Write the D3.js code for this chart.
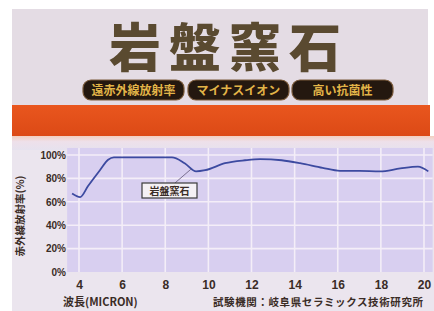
<!DOCTYPE html>
<html><head><meta charset="utf-8">
<script src="https://cdn.jsdelivr.net/npm/d3@7"></script>
<style>body{margin:0;background:#fff}svg{display:block}</style>
</head><body>
<script>
const title = "岩盤窯石";
const badges = ["遠赤外線放射率", "マイナスイオン", "高い抗菌性"];
const wavelength = [3.68, 4.05, 4.42, 4.97, 5.35, 5.62, 6.4, 7.5, 8.31, 8.9, 9.43, 9.85, 10.77, 11.7, 12.4, 13.4, 14.25, 15.3, 16.1, 17.0, 17.96, 18.9, 19.72, 20.2];
const emissivity = [67, 64, 73.5, 87, 96, 98, 98, 98, 98, 93, 86, 87, 93, 95.5, 96.5, 95.5, 93, 89, 86.5, 86.5, 86, 88.5, 90, 86];
const xTicks = [4, 6, 8, 10, 12, 14, 16, 18, 20];
const yTicks = [0, 20, 40, 60, 80, 100];
const yTitle = "赤外線放射率(%)";
const xTitle = "波長(MICRON)";
const source = "試験機関：岐阜県セラミックス技術研究所";
const seriesLabel = "岩盤窯石";

const W = 434, H = 311;
const svg = d3.select("body").append("svg").attr("width", W).attr("height", H);
const defs = svg.append("defs");
const g1 = defs.append("linearGradient").attr("id","pastel").attr("x1",0).attr("x2",0).attr("y1",0).attr("y2",1);
g1.append("stop").attr("offset","0%").attr("stop-color","#f2cfc0");
g1.append("stop").attr("offset","40%").attr("stop-color","#eee0ea");
g1.append("stop").attr("offset","100%").attr("stop-color","#e6e2ee");
const g2 = defs.append("linearGradient").attr("id","band").attr("x1",0).attr("x2",0).attr("y1",0).attr("y2",1);
g2.append("stop").attr("offset","0%").attr("stop-color","#e9561e");
g2.append("stop").attr("offset","100%").attr("stop-color","#dc4a16");

// panel
svg.append("rect").attr("x",12).attr("y",9).attr("width",416).attr("height",H-9).attr("fill","#e4dce4");
svg.append("rect").attr("x",12).attr("y",136).attr("width",422).attr("height",H-136).attr("fill","#ebe5ee");
svg.append("rect").attr("x",12).attr("y",136).attr("width",422).attr("height",14).attr("fill","url(#pastel)");

// title
svg.append("text").attr("x",229).attr("y",67).attr("text-anchor","middle")
  .attr("font-family","Noto Sans CJK JP").attr("font-weight",900).attr("font-size",52)
  .attr("letter-spacing",8).attr("fill","#5a4a30").text(title);

// badges
const bx = [83, 188, 292], bw = 101;
badges.forEach((b,i)=>{
  svg.append("rect").attr("x",bx[i]).attr("y",80).attr("width",bw).attr("height",20).attr("rx",8)
    .attr("fill","#24180f").attr("stroke","#7a5a3a").attr("stroke-width",1.2);
  svg.append("text").attr("x",bx[i]+bw/2).attr("y",94.5).attr("text-anchor","middle")
    .attr("font-family","Noto Sans CJK JP").attr("font-weight",700).attr("font-size",12)
    .attr("fill","#e2b448").text(b);
});

// orange band
svg.append("rect").attr("x",12).attr("y",105).attr("width",418).attr("height",31).attr("fill","url(#band)");

// scales
const x = d3.scaleLinear().domain([4,20]).range([79,424]);
const y = d3.scaleLinear().domain([0,100]).range([272,155]);

// plot area
svg.append("rect").attr("x",x(3.45)).attr("y",y(106)).attr("width",x(20.4)-x(3.45)).attr("height",y(0)-y(106))
  .attr("fill","#d8cff0");
svg.append("g").selectAll("line").data(xTicks).join("line")
  .attr("x1",d=>x(d)).attr("x2",d=>x(d)).attr("y1",y(106)).attr("y2",y(0))
  .attr("stroke","#f4eef8").attr("stroke-width",1.6);
svg.append("g").selectAll("line").data(yTicks.filter(d=>d>0)).join("line")
  .attr("x1",x(3.45)).attr("x2",x(20.4)).attr("y1",d=>y(d)).attr("y2",d=>y(d))
  .attr("stroke","#f4eef8").attr("stroke-width",1.6);

// axes labels
const yAxis = d3.axisLeft(y).tickValues(yTicks).tickFormat(d=>d+"%").tickSize(0).tickPadding(0);
const ya = svg.append("g").attr("transform",`translate(66,0)`).call(yAxis);
ya.select(".domain").remove();
ya.selectAll("text").attr("font-family","Liberation Sans").attr("font-weight",700).attr("font-size",10).attr("fill","#3a2c26");

const xAxis = d3.axisBottom(x).tickValues(xTicks).tickSize(0).tickPadding(0);
const xa = svg.append("g").attr("transform",`translate(0,280)`).call(xAxis);
xa.select(".domain").remove();
xa.selectAll("text").attr("font-family","Liberation Sans").attr("font-weight",700).attr("font-size",12).attr("fill","#3a2c26");

// line
const line = d3.line().x((d,i)=>x(wavelength[i])).y(d=>y(d)).curve(d3.curveMonotoneX);
svg.append("path").attr("d",line(emissivity)).attr("fill","none").attr("stroke","#3c4aa0").attr("stroke-width",1.8);

// annotation
svg.append("line").attr("x1",x(8.45)).attr("y1",183).attr("x2",x(9.2)).attr("y2",y(88)).attr("stroke","#7a7090").attr("stroke-width",1);
svg.append("rect").attr("x",142).attr("y",183).attr("width",55).attr("height",15).attr("fill","#f4f0f4").attr("stroke","#3a3a3a").attr("stroke-width",1.2);
svg.append("text").attr("x",169.5).attr("y",194.5).attr("text-anchor","middle")
  .attr("font-family","Noto Sans CJK JP").attr("font-weight",700).attr("font-size",10).attr("fill","#3a2c26").text(seriesLabel);

// titles
svg.append("text").attr("transform","translate(24,216) rotate(-90)").attr("text-anchor","middle")
  .attr("font-family","Noto Sans CJK JP").attr("font-weight",700).attr("font-size",10.5).attr("fill","#3a2c26").text(yTitle);
svg.append("text").attr("x",63).attr("y",306)
  .attr("font-family","Noto Sans CJK JP").attr("font-weight",700).attr("font-size",11).attr("fill","#3a2c26").text(xTitle);
svg.append("text").attr("x",213).attr("y",306).attr("letter-spacing",0.6)
  .attr("font-family","Noto Sans CJK JP").attr("font-weight",700).attr("font-size",10.5).attr("fill","#3a2c26").text(source);
</script>
</body></html>
